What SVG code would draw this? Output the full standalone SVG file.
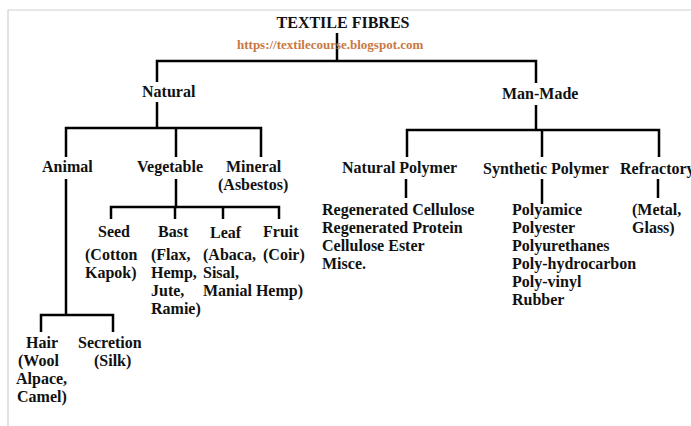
<svg xmlns="http://www.w3.org/2000/svg" width="691" height="426" viewBox="0 0 691 426">
<style>
text{font-family:"Liberation Serif","Times New Roman",serif;font-weight:bold;font-size:16px;fill:#111}
.url{font-size:13px;fill:#c8783f}
.ln{fill:none;stroke:#000;stroke-width:2.5;stroke-linejoin:miter}
.frame{fill:none;stroke:#cfcfcf;stroke-width:1.2}
</style>
<rect width="691" height="426" fill="#fff"/>
<path class="frame" d="M8 426 V10 H691"/>
<g id="connectors">
<path class="ln" d="M337 33 V61"/>
<path class="ln" d="M157 82 V61 H536 V83"/>
<path class="ln" d="M157 102 V128"/>
<path class="ln" d="M66 157 V128 H261 V157"/>
<path class="ln" d="M176 128 V157"/>
<path class="ln" d="M66 179 V315"/>
<path class="ln" d="M41 332 V315 H113 V332"/>
<path class="ln" d="M176 179 V207"/>
<path class="ln" d="M111 219 V207 H279 V219"/>
<path class="ln" d="M175 207 V219"/>
<path class="ln" d="M223 207 V219"/>
<path class="ln" d="M536 105 V130"/>
<path class="ln" d="M407 157 V130 H659 V157"/>
<path class="ln" d="M542 130 V157"/>
<path class="ln" d="M406 179 V198"/>
<path class="ln" d="M542 179 V204"/>
<path class="ln" d="M658 179 V198"/>
</g>
<g id="title"><text x="343" y="28" text-anchor="middle">TEXTILE FIBRES</text></g>
<g id="url"><text class="url" x="237" y="49">https://textilecourse.blogspot.com</text></g>
<g id="natural"><text x="142" y="97">Natural</text></g>
<g id="man-made"><text x="502" y="99">Man-Made</text></g>
<g id="animal"><text x="42" y="172">Animal</text></g>
<g id="vegetable"><text x="137" y="172">Vegetable</text></g>
<g id="mineral"><text x="226" y="172">Mineral</text><text x="218" y="190">(Asbestos)</text></g>
<g id="seed"><text x="98" y="237">Seed</text><text x="85" y="260">(Cotton</text><text x="85" y="278">Kapok)</text></g>
<g id="bast"><text x="158" y="237">Bast</text><text x="151" y="260">(Flax,</text><text x="151" y="278">Hemp,</text><text x="151" y="296">Jute,</text><text x="151" y="314">Ramie)</text></g>
<g id="leaf"><text x="210" y="238">Leaf</text><text x="203" y="260">(Abaca,</text><text x="203" y="278">Sisal,</text><text x="203" y="296">Manial Hemp)</text></g>
<g id="fruit"><text x="263" y="237">Fruit</text><text x="263" y="260">(Coir)</text></g>
<g id="hair"><text x="26" y="348">Hair</text><text x="18" y="366">(Wool</text><text x="16" y="384">Alpace,</text><text x="17" y="402">Camel)</text></g>
<g id="secretion"><text x="78" y="348">Secretion</text><text x="94" y="366">(Silk)</text></g>
<g id="natural-polymer"><text x="342" y="173">Natural Polymer</text></g>
<g id="natural-polymer-items"><text x="322" y="215">Regenerated Cellulose</text><text x="322" y="233">Regenerated Protein</text><text x="322" y="251">Cellulose Ester</text><text x="322" y="269">Misce.</text></g>
<g id="synthetic-polymer"><text x="483" y="174">Synthetic Polymer</text></g>
<g id="synthetic-polymer-items"><text x="512" y="215">Polyamice</text><text x="512" y="233">Polyester</text><text x="512" y="251">Polyurethanes</text><text x="512" y="269">Poly-hydrocarbon</text><text x="512" y="287">Poly-vinyl</text><text x="512" y="305">Rubber</text></g>
<g id="refractory"><text x="620" y="174">Refractory</text></g>
<g id="refractory-items"><text x="632" y="215">(Metal,</text><text x="632" y="233">Glass)</text></g>
</svg>
